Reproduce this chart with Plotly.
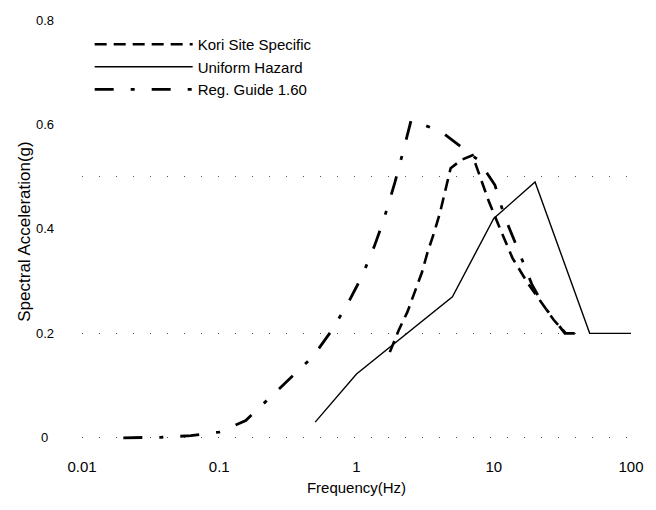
import plotly.graph_objects as go

# ---- data ----
kori_freq = [1.75, 2.03, 2.35, 2.64, 3.0, 3.3, 3.67, 4.05, 4.47, 4.85, 5.8, 7.0,
             8.07, 9.2, 11.2, 13.7, 17.5, 22.4, 27.3, 33.5]
kori_sa = [0.164, 0.206, 0.241, 0.279, 0.317, 0.356, 0.392, 0.43, 0.474, 0.516, 0.532, 0.541,
           0.495, 0.453, 0.398, 0.344, 0.298, 0.258, 0.226, 0.2]

uh_freq = [0.5, 1.0, 5.0, 10.0, 20.0, 50.0, 100.0]
uh_sa = [0.03, 0.122, 0.27, 0.42, 0.49, 0.2, 0.2]

rg_freq = [0.02, 0.028, 0.038, 0.062, 0.10, 0.156, 0.23, 0.33, 0.48, 0.65, 0.86, 1.1,
           1.35, 1.56, 1.9, 2.17, 2.5, 4.1, 5.35, 7.7, 10.2, 12.0, 14.8, 19.0, 23.5,
           28.6, 33.0, 50.0]
rg_sa = [0.0, 0.0, 0.001, 0.004, 0.011, 0.033, 0.075, 0.113, 0.155, 0.203, 0.256, 0.31,
         0.367, 0.413, 0.488, 0.545, 0.608, 0.587, 0.564, 0.532, 0.484, 0.423, 0.365, 0.293,
         0.25, 0.22, 0.2, 0.2]

x_tickvals = [0.01, 0.1, 1, 10, 100]
x_ticktext = ["0.01", "0.1", "1", "10", "100"]
y_tickvals = [0, 0.2, 0.4, 0.6, 0.8]
y_ticktext = ["0", "0.2", "0.4", "0.6", "0.8"]
grid_vals = [0, 0.2, 0.5]

FONT = "Liberation Sans, Arial, sans-serif"
L, R, T, B = 82, 12, 20, 67
PLOT_W = 656 - L - R
Y_LABEL_CENTER_PX = 44  # horizontal centre of the y tick labels

fig = go.Figure()
# empty trace so the overlay axis that carries the dotted grid is drawn
fig.add_trace(go.Scatter(x=[], y=[], yaxis="y2", showlegend=False, hoverinfo="skip"))
fig.add_trace(go.Scatter(x=kori_freq, y=kori_sa, mode="lines", name="Kori Site Specific",
                         line=dict(color="black", width=2.6, dash="12px,7px")))
fig.add_trace(go.Scatter(x=uh_freq, y=uh_sa, mode="lines", name="Uniform Hazard",
                         line=dict(color="black", width=1.4)))
fig.add_trace(go.Scatter(x=rg_freq, y=rg_sa, mode="lines", name="Reg. Guide 1.60",
                         line=dict(color="black", width=2.8, dash="19px,17px,4px,17px")))

# y tick labels, centred (as in the reference) rather than right-aligned
annotations = [
    dict(x=(Y_LABEL_CENTER_PX - L) / PLOT_W, xref="paper", y=v, yref="y",
         text=t, showarrow=False, xanchor="center", yanchor="middle",
         font=dict(family=FONT, size=13, color="black"))
    for v, t in zip(y_tickvals, y_ticktext)
]

fig.update_layout(
    width=656, height=510,
    margin=dict(l=L, r=R, t=T, b=B),
    paper_bgcolor="white", plot_bgcolor="white",
    font=dict(family=FONT, size=13, color="black"),
    showlegend=True,
    legend=dict(x=0.014, y=0.981, xanchor="left", yanchor="top",
                font=dict(family=FONT, size=15, color="black"),
                itemwidth=98, bgcolor="rgba(0,0,0,0)", tracegroupgap=0),
    xaxis=dict(type="log", range=[-2, 2], tickvals=x_tickvals, ticktext=x_ticktext,
               showgrid=False, zeroline=False, showline=False, ticks="",
               ticklabelstandoff=13, ticklabeloverflow="allow",
               title=dict(text="Frequency(Hz)", font=dict(size=15), standoff=8),
               tickfont=dict(size=15)),
    yaxis=dict(range=[-0.01, 0.8], tickvals=y_tickvals, showticklabels=False,
               showgrid=False, zeroline=False, showline=False, ticks="",
               title=dict(text="Spectral Acceleration(g)", font=dict(size=17), standoff=46)),
    yaxis2=dict(range=[-0.01, 0.8], overlaying="y", anchor="x", side="left",
                tickvals=grid_vals, showticklabels=False, ticks="",
                showgrid=True, gridcolor="#555", gridwidth=1, griddash="1px,16px",
                zeroline=False, showline=False),
    annotations=annotations,
)

fig.write_html("out.html")
